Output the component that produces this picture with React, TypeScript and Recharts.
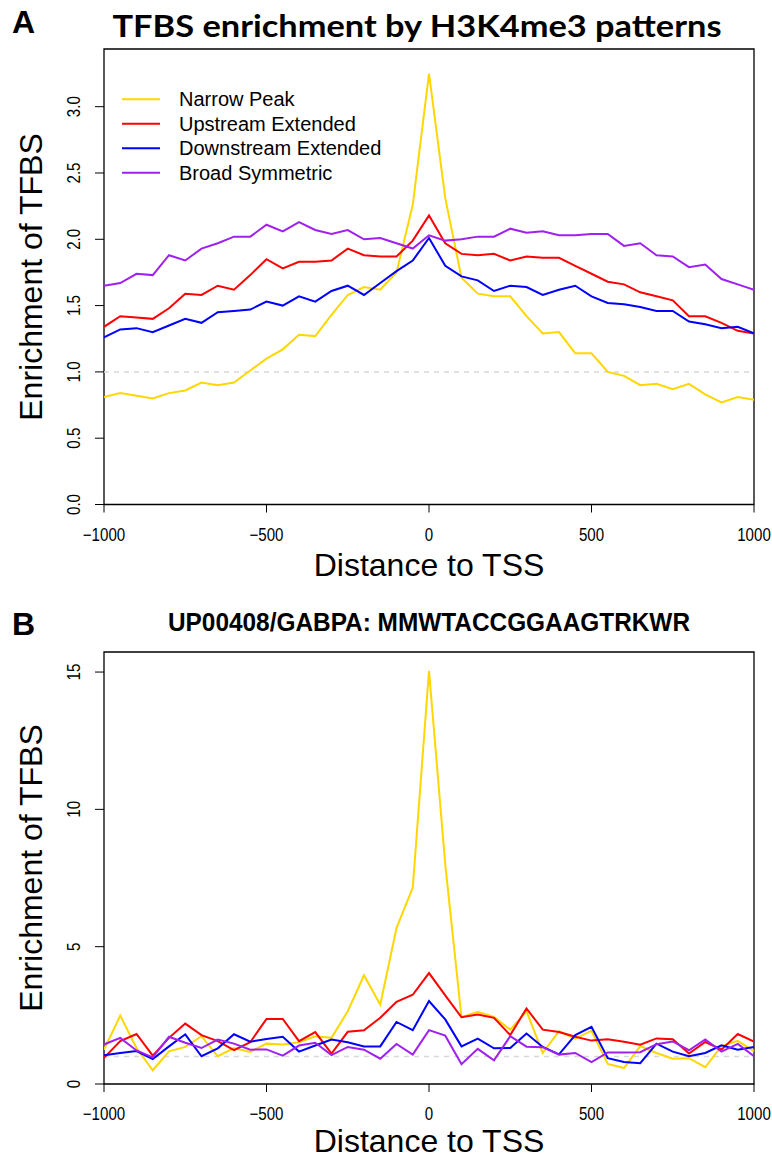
import React from 'react';
import { LineChart, Line, XAxis, YAxis, ReferenceLine, ReferenceArea, Legend } from 'recharts';

const distance = [-1000, -950, -900, -850, -800, -750, -700, -650, -600, -550, -500, -450, -400, -350, -300, -250, -200, -150, -100, -50, 0, 50, 100, 150, 200, 250, 300, 350, 400, 450, 500, 550, 600, 650, 700, 750, 800, 850, 900, 950, 1000];

const narrowA = [0.81, 0.84, 0.82, 0.80, 0.84, 0.86, 0.92, 0.90, 0.92, 1.01, 1.10, 1.17, 1.28, 1.27, 1.43, 1.58, 1.64, 1.62, 1.75, 2.26, 3.25, 2.31, 1.71, 1.59, 1.57, 1.57, 1.42, 1.29, 1.30, 1.14, 1.14, 1.00, 0.97, 0.90, 0.91, 0.87, 0.91, 0.83, 0.77, 0.81, 0.79];
const upstreamA = [1.34, 1.42, 1.41, 1.40, 1.48, 1.59, 1.58, 1.65, 1.62, 1.73, 1.85, 1.78, 1.83, 1.83, 1.84, 1.93, 1.88, 1.87, 1.87, 1.99, 2.18, 1.97, 1.89, 1.88, 1.89, 1.84, 1.87, 1.86, 1.86, 1.80, 1.74, 1.68, 1.66, 1.60, 1.57, 1.54, 1.42, 1.42, 1.37, 1.31, 1.29];
const downstreamA = [1.26, 1.32, 1.33, 1.30, 1.35, 1.40, 1.37, 1.45, 1.46, 1.47, 1.53, 1.50, 1.57, 1.53, 1.61, 1.65, 1.58, 1.67, 1.76, 1.84, 2.01, 1.80, 1.72, 1.69, 1.61, 1.65, 1.64, 1.58, 1.62, 1.65, 1.57, 1.52, 1.51, 1.49, 1.46, 1.46, 1.38, 1.36, 1.33, 1.34, 1.29];
const broadA = [1.65, 1.67, 1.74, 1.73, 1.88, 1.84, 1.93, 1.97, 2.02, 2.02, 2.11, 2.06, 2.13, 2.07, 2.04, 2.07, 2.00, 2.01, 1.97, 1.93, 2.03, 1.99, 2.00, 2.02, 2.02, 2.08, 2.05, 2.06, 2.03, 2.03, 2.04, 2.04, 1.95, 1.97, 1.88, 1.87, 1.79, 1.81, 1.70, 1.66, 1.62];

const narrowB = [1.25, 2.49, 1.31, 0.50, 1.19, 1.35, 1.74, 1.01, 1.31, 1.17, 1.47, 1.44, 1.52, 1.74, 1.68, 2.65, 3.96, 2.89, 5.68, 7.15, 15.04, 8.0, 2.43, 2.63, 2.44, 1.98, 2.65, 1.13, 1.92, 1.65, 1.94, 0.73, 0.58, 1.38, 1.13, 0.92, 0.94, 0.61, 1.38, 1.57, 1.20];
const upstreamB = [0.95, 1.56, 1.82, 1.03, 1.68, 2.20, 1.78, 1.56, 1.23, 1.52, 2.37, 2.37, 1.56, 1.89, 1.11, 1.90, 1.96, 2.41, 2.99, 3.25, 4.04, 3.23, 2.43, 2.53, 2.41, 1.78, 2.75, 1.98, 1.89, 1.72, 1.58, 1.63, 1.54, 1.43, 1.66, 1.63, 1.11, 1.53, 1.25, 1.82, 1.54];
const downstreamB = [1.05, 1.13, 1.20, 0.91, 1.37, 1.81, 1.01, 1.30, 1.81, 1.54, 1.64, 1.72, 1.18, 1.40, 1.62, 1.52, 1.37, 1.37, 2.26, 1.96, 3.02, 2.35, 1.37, 1.65, 1.30, 1.31, 1.84, 1.35, 1.08, 1.78, 2.08, 0.94, 0.80, 0.76, 1.47, 1.18, 1.01, 1.13, 1.41, 1.25, 1.35];
const broadB = [1.44, 1.68, 1.22, 0.97, 1.72, 1.50, 1.31, 1.62, 1.47, 1.25, 1.26, 1.03, 1.40, 1.50, 1.05, 1.35, 1.25, 0.92, 1.46, 1.07, 1.96, 1.76, 0.72, 1.28, 0.86, 1.74, 1.36, 1.34, 1.07, 1.13, 0.80, 1.15, 1.15, 1.16, 1.45, 1.55, 1.23, 1.62, 1.18, 1.46, 1.01];

const seriesKeys = ['narrow', 'upstream', 'downstream', 'broad'];
const seriesNames = ['Narrow Peak', 'Upstream Extended', 'Downstream Extended', 'Broad Symmetric'];
const seriesColors = ['#FFD700', '#FF0000', '#0000FF', '#A020F0'];

const xTicks = [-1000, -500, 0, 500, 1000];
const yTicksA = [0, 0.5, 1, 1.5, 2, 2.5, 3];
const yTicksB = [0, 5, 10, 15];

const titleA = 'TFBS enrichment by H3K4me3 patterns';
const titleB = 'UP00408/GABPA: MMWTACCGGAAGTRKWR';
const xLabel = 'Distance to TSS';
const yLabel = 'Enrichment of TFBS';

const FONT = '"Liberation Sans", Arial, Helvetica, sans-serif';

const buildRows = (a: number[], b: number[], c: number[], d: number[]) =>
  distance.map((x, i) => ({ d: x, narrow: a[i], upstream: b[i], downstream: c[i], broad: d[i] }));

const rowsA = buildRows(narrowA, upstreamA, downstreamA, broadA);
const rowsB = buildRows(narrowB, upstreamB, downstreamB, broadB);

const fmtX = (v: number) => (v < 0 ? '\u2212' + Math.abs(v) : String(v));

const XTick = (props: any) => {
  const { x, y, payload } = props;
  return (
    <g transform={`translate(${x},${y + 28})`}>
      <text x={0} y={0} transform="scale(0.84,1)" textAnchor="middle" fontSize={18} fontFamily={FONT} fill="#000">
        {fmtX(payload.value)}
      </text>
    </g>
  );
};

const makeYTick = (digits: number) => (props: any) => {
  const { x, y, payload } = props;
  const tx = x - 15;
  return (
    <g transform={`translate(${tx},${y}) rotate(-90)`}>
      <text x={0} y={0} transform="scale(0.84,1)" textAnchor="middle" fontSize={18} fontFamily={FONT} fill="#000">
        {digits > 0 ? Number(payload.value).toFixed(digits) : String(payload.value)}
      </text>
    </g>
  );
};

const LegendContent = () => {
  return (
    <svg width={300} height={100}>
      {seriesNames.map((n, i) => {
        const cy = 12.3 + i * 24.5;
        return (
          <g key={n}>
            <line x1={4} x2={42} y1={cy} y2={cy} stroke={seriesColors[i]} strokeWidth={2} />
            <text x={61} y={cy + 7} fontSize={20} fontFamily={FONT} fill="#000">
              {n}
            </text>
          </g>
        );
      })}
    </svg>
  );
};

const Panel = (props: { rows: any[]; height: number; margin: any; yMax: number; yTicks: number[]; digits: number; legend: boolean }) => {
  const { rows, height, margin, yMax, yTicks, digits, legend } = props;
  return (
    <LineChart width={772} height={height} data={rows} margin={margin}>
      <XAxis
        dataKey="d"
        type="number"
        domain={[-1000, 1000]}
        ticks={xTicks}
        interval={0}
        axisLine={false}
        tickLine={{ stroke: '#000', strokeWidth: 1 }}
        tickSize={8}
        tickMargin={0}
        height={30}
        tick={<XTick />}
        allowDataOverflow
      />
      <YAxis
        type="number"
        domain={[0, yMax]}
        ticks={yTicks}
        interval={0}
        axisLine={false}
        tickLine={{ stroke: '#000', strokeWidth: 1 }}
        tickSize={9}
        tickMargin={0}
        width={60}
        tick={makeYTick(digits)}
        allowDataOverflow
      />
      <ReferenceLine y={1} stroke="#d8d8d8" strokeDasharray="5 5" strokeWidth={1.5} />
      {seriesKeys.map((k, i) => (
        <Line
          key={k}
          type="linear"
          dataKey={k}
          name={seriesNames[i]}
          stroke={seriesColors[i]}
          strokeWidth={2}
          dot={false}
          activeDot={false}
          isAnimationActive={false}
        />
      ))}
      <ReferenceArea x1={-1000} x2={1000} y1={0} y2={yMax} fill="none" fillOpacity={0} stroke="#000" strokeWidth={1.3} />
      {legend && (
        <Legend
          layout="horizontal"
          verticalAlign="middle"
          align="center"
          wrapperStyle={{ position: 'absolute', top: 87, left: 118, width: 300, height: 100 }}
          content={<LegendContent />}
        />
      )}
    </LineChart>
  );
};

export default function App() {
  return (
    <div style={{ position: 'absolute', left: 0, top: 0, width: 772, height: 1163, background: '#fff' }}>
      <div style={{ position: 'absolute', left: 0, top: 0 }}>
        <Panel
          rows={rowsA}
          height={600}
          margin={{ top: 49, right: 18, left: 44, bottom: 65.5 }}
          yMax={3.435}
          yTicks={yTicksA}
          digits={1}
          legend={true}
        />
      </div>
      <div style={{ position: 'absolute', left: 0, top: 600 }}>
        <Panel
          rows={rowsB}
          height={563}
          margin={{ top: 52, right: 18, left: 44, bottom: 49 }}
          yMax={15.73}
          yTicks={yTicksB}
          digits={0}
          legend={false}
        />
      </div>
      <svg width={772} height={1163} style={{ position: 'absolute', left: 0, top: 0, pointerEvents: 'none' }}>
        <text x={12} y={33} fontSize={32} fontWeight="bold" fontFamily={FONT} fill="#000">A</text>
        <text x={417} y={37} textAnchor="middle" fontSize={31} fontWeight="bold" fontFamily='Lato, "Open Sans", sans-serif' textLength={609} lengthAdjust="spacingAndGlyphs" fill="#000">
          {titleA}
        </text>
        <text x={42} y={277} transform="rotate(-90 42 277)" textAnchor="middle" fontSize={32} fontFamily={FONT} fill="#000">
          {yLabel}
        </text>
        <text x={429} y={576} textAnchor="middle" fontSize={32} fontFamily={FONT} fill="#000">
          {xLabel}
        </text>
        <text x={12} y={635} fontSize={32} fontWeight="bold" fontFamily={FONT} fill="#000">B</text>
        <text x={429} y={631} textAnchor="middle" fontSize={25} fontWeight="bold" fontFamily={FONT} textLength={522} lengthAdjust="spacingAndGlyphs" fill="#000">
          {titleB}
        </text>
        <text x={42} y={868} transform="rotate(-90 42 868)" textAnchor="middle" fontSize={32} fontFamily={FONT} fill="#000">
          {yLabel}
        </text>
        <text x={429} y={1152} textAnchor="middle" fontSize={32} fontFamily={FONT} fill="#000">
          {xLabel}
        </text>
      </svg>
    </div>
  );
}
